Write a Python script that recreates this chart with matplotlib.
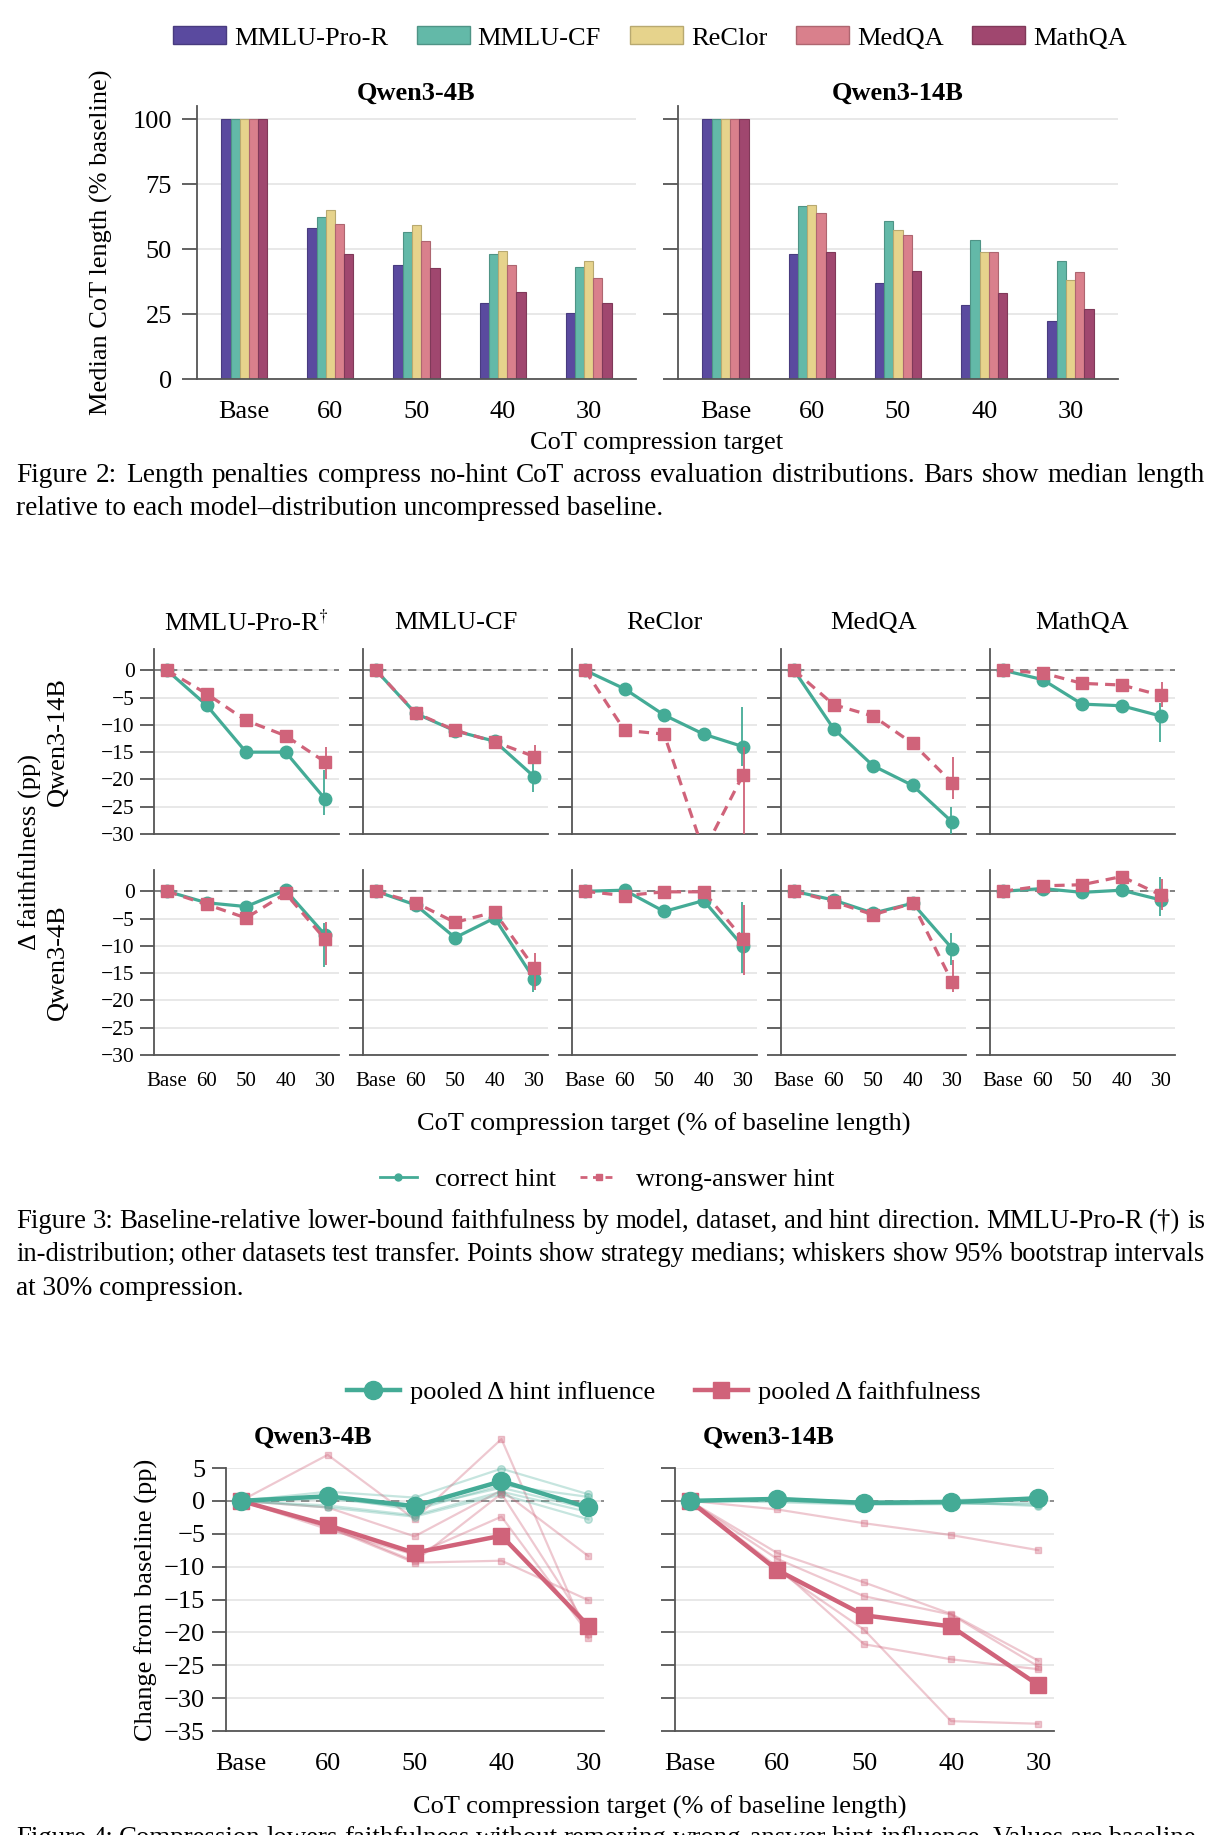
import matplotlib
matplotlib.use("Agg")
import matplotlib.pyplot as plt
import matplotlib.colors as mcolors
from matplotlib.lines import Line2D
from matplotlib.patches import Patch
import numpy as np

plt.rcParams['font.family'] = ['Liberation Serif', 'DejaVu Serif']
plt.rcParams['mathtext.fontset'] = 'stix'

# ---------------- data ----------------
steps = ["Base", "60", "50", "40", "30"]
datasets = ["MMLU-Pro-R", "MMLU-CF", "ReClor", "MedQA", "MathQA"]

# Figure 2: median CoT length (% of baseline), rows = datasets
len_4b = [
    [100, 58.0, 43.7, 29.2, 25.5],
    [100, 62.5, 56.7, 47.9, 42.9],
    [100, 65.0, 59.4, 49.2, 45.5],
    [100, 59.5, 53.0, 43.7, 38.9],
    [100, 48.0, 42.6, 33.4, 29.4],
]
len_14b = [
    [100, 47.9, 37.0, 28.3, 22.3],
    [100, 66.6, 60.6, 53.6, 45.5],
    [100, 67.1, 57.2, 48.8, 37.9],
    [100, 64.0, 55.2, 49.0, 41.0],
    [100, 48.8, 41.4, 33.2, 27.1],
]

# Figure 3: delta faithfulness (pp), rows = datasets
f14_correct = [
    [0, -6.4, -15.0, -15.0, -23.6],
    [0, -7.9, -11.1, -13.0, -19.5],
    [0, -3.4, -8.2, -11.7, -14.0],
    [0, -10.7, -17.5, -21.1, -27.8],
    [0, -1.7, -6.2, -6.5, -8.4],
]
f14_wrong = [
    [0, -4.3, -9.2, -12.0, -16.8],
    [0, -7.8, -11.0, -13.1, -15.8],
    [0, -11.0, -11.7, -33.2, -19.1],
    [0, -6.3, -8.4, -13.4, -20.6],
    [0, -0.5, -2.4, -2.7, -4.6],
]
f4_correct = [
    [0, -2.1, -2.8, 0.2, -8.0],
    [0, -2.5, -8.5, -4.9, -16.1],
    [0, 0.2, -3.7, -1.7, -10.1],
    [0, -1.6, -4.0, -2.2, -10.5],
    [0, 0.5, -0.2, 0.2, -1.6],
]
f4_wrong = [
    [0, -2.4, -4.9, -0.4, -8.8],
    [0, -2.1, -5.7, -3.8, -14.0],
    [0, -0.8, -0.1, -0.1, -8.7],
    [0, -1.9, -4.3, -2.2, -16.6],
    [0, 1.0, 1.2, 2.7, -0.7],
]
# 95% bootstrap intervals at 30% (low, high)
ci14_correct = [(-26.6, -18.2), (-22.3, -16.8), (-17.5, -6.8), (-31.0, -25.0), (-13.1, -6.0)]
ci14_wrong = [(-20.0, -14.0), (-17.1, -13.6), (-36.0, -14.0), (-23.5, -15.9), (-6.8, -2.2)]
ci4_correct = [(-13.8, -5.9), (-18.4, -14.7), (-15.0, -2.0), (-13.5, -7.7), (-4.6, 2.6)]
ci4_wrong = [(-13.5, -5.7), (-18.1, -11.4), (-15.3, -2.5), (-18.4, -12.6), (-3.4, 2.2)]

# Figure 4: pooled change from baseline (pp)
p4_hint = [0, 0.7, -0.8, 3.0, -1.0]
p4_faith = [0, -3.7, -7.9, -5.3, -19.0]
p14_hint = [0, 0.3, -0.3, -0.2, 0.4]
p14_faith = [0, -10.5, -17.4, -19.1, -28.0]
d4_hint = [
    [0, 1.4, 0.5, 4.9, 1.0],
    [0, 0.7, -1.4, 2.4, 0.6],
    [0, -0.7, -2.2, 1.4, -1.7],
    [0, -1.0, -2.4, 1.0, -2.8],
    [0, 0.3, -1.0, 2.0, -1.2],
]
d4_faith = [
    [0, 7.0, -2.8, 9.4, -20.9],
    [0, -1.0, -5.4, 1.6, -8.4],
    [0, -4.0, -9.4, -9.1, -15.1],
    [0, -4.3, -8.2, -2.4, -20.2],
    [0, -3.8, -9.2, 1.1, -19.4],
]
d14_hint = [
    [0, 0.2, -0.4, -0.3, -0.6],
    [0, -0.2, -0.6, -0.5, -0.3],
    [0, 0.4, -0.2, 0.1, 0.5],
    [0, 0.0, -0.5, -0.2, -0.8],
    [0, 0.3, -0.1, 0.0, 0.2],
]
d14_faith = [
    [0, -1.3, -3.4, -5.2, -7.5],
    [0, -7.9, -12.4, -17.2, -24.3],
    [0, -8.8, -14.5, -17.3, -25.2],
    [0, -10.0, -21.8, -24.1, -25.6],
    [0, -10.5, -19.6, -33.5, -33.9],
]

cap2 = ["Figure 2: Length penalties compress no-hint CoT across evaluation distributions. Bars show median length",
        "relative to each model\u2013distribution uncompressed baseline."]
cap3 = ["Figure 3: Baseline-relative lower-bound faithfulness by model, dataset, and hint direction. MMLU-Pro-R (\u2020) is",
        "in-distribution; other datasets test transfer. Points show strategy medians; whiskers show 95% bootstrap intervals",
        "at 30% compression."]
cap4 = ["Figure 4: Compression lowers faithfulness without removing wrong-answer hint influence. Values are baseline-"]

bar_colors = ['#5a4a9f', '#63b9a8', '#e6d38c', '#d9808c', '#a0476f']
teal = '#44ab96'
pink = '#d0637a'
grid_c = '#e2e2e2'
spine_c = '#555555'

W, H = 1221, 1835
fig = plt.figure(figsize=(W / 100, H / 100), dpi=100)


def box(l, t, r, b):
    return [l / W, 1 - b / H, (r - l) / W, (b - t) / H]


def fx(x):
    return x / W


def fy(y):
    return 1 - y / H


def darker(c, f=0.8):
    r, g, b = mcolors.to_rgb(c)
    return (r * f, g * f, b * f)


def style(ax, tl=9, pad=14):
    for s in ['top', 'right']:
        ax.spines[s].set_visible(False)
    for s in ['left', 'bottom']:
        ax.spines[s].set_color(spine_c)
        ax.spines[s].set_linewidth(1.3)
    ax.grid(axis='y', color=grid_c, lw=1.1)
    ax.set_axisbelow(True)
    ax.tick_params(axis='x', length=0, pad=pad)
    ax.tick_params(axis='y', length=tl, width=1.3, color=spine_c)


def justified(lines, x0, x1, ys, size, justify_last=False):
    # lay out words across the full width; shrink a line a little if it is too tight
    r = fig.canvas.get_renderer()
    for k, (line, y) in enumerate(zip(lines, ys)):
        last = (k == len(lines) - 1) and not justify_last
        if last:
            fig.text(fx(x0), fy(y), line, fontsize=size, va='baseline', ha='left')
            continue
        words = line.split(' ')
        s = size
        while True:
            ts = [fig.text(0, 0, w, fontsize=s, va='baseline') for w in words]
            ws = [t.get_window_extent(r).width for t in ts]
            gap = (x1 - x0 - sum(ws)) / (len(words) - 1)
            if gap >= 0.22 * s * 100 / 72 or s < size - 2:
                break
            for t in ts:
                t.remove()
            s -= 0.1
        pos = x0
        for t, w in zip(ts, ws):
            t.set_position((fx(pos), fy(y)))
            pos += w + gap


x = np.arange(len(steps))

# ---------------- Figure 2 ----------------
bw = 0.107
for (l, r), vals, title in [((197, 636), len_4b, "Qwen3-4B"), ((678, 1118), len_14b, "Qwen3-14B")]:
    ax = fig.add_axes(box(l, 106, r, 379))
    style(ax, tl=11, pad=16)
    for i, c in enumerate(bar_colors):
        ax.bar(x + (i - 2) * bw, vals[i], bw, color=c, edgecolor=darker(c), linewidth=0.8, zorder=2)
    ax.set_xlim(-0.55, 4.55)
    ax.set_ylim(0, 105)
    ax.set_yticks([0, 25, 50, 75, 100])
    ax.set_xticks(x)
    ax.set_xticklabels(steps, fontsize=19)
    if l < 300:
        ax.tick_params(axis='y', labelsize=19, pad=7)
        ax.set_ylabel("Median CoT length (% baseline)", fontsize=19, labelpad=14)
    else:
        ax.set_yticklabels([])
    fig.text(fx((l + r) / 2), fy(93), title, fontsize=19, fontweight='bold', ha='center', va='center')

fig.text(fx(657), fy(443), "CoT compression target", fontsize=19, ha='center', va='center')
handles = [Patch(facecolor=c, edgecolor=darker(c), linewidth=1.0) for c in bar_colors]
fig.legend(handles, datasets, loc='center', bbox_to_anchor=(fx(650), fy(38)), ncol=5, frameon=False,
           fontsize=19, handlelength=2.0, handleheight=0.68, handletextpad=0.3, columnspacing=1.1)
justified(cap2, 16, 1205, [482, 515], 19.6)

# ---------------- Figure 3 ----------------
col_l = [154, 363, 572, 781, 990]
rows = [(649, 834, f14_correct, f14_wrong, ci14_correct, ci14_wrong, "Qwen3-14B"),
        (870, 1055, f4_correct, f4_wrong, ci4_correct, ci4_wrong, "Qwen3-4B")]
titles3 = [r"MMLU-Pro-R$^{\dagger}$", "MMLU-CF", "ReClor", "MedQA", "MathQA"]
for ri, (t, b, corr, wrong, cic, ciw, rlab) in enumerate(rows):
    for j in range(5):
        l = col_l[j]
        ax = fig.add_axes(box(l, t, l + 185, b))
        style(ax, tl=10, pad=12)
        ax.axhline(0, color='#707070', lw=1.2, ls=(0, (5, 4)), zorder=1)
        ax.plot(x, corr[j], color=teal, lw=2.3, marker='o', ms=9, zorder=3)
        ax.plot(x, wrong[j], color=pink, lw=2.3, ls=(0, (3.2, 2.2)), marker='s', ms=8.5, zorder=4)
        ax.vlines(x[-1] - 0.03, cic[j][0], cic[j][1], color=teal, lw=1.3, zorder=3)
        ax.vlines(x[-1] + 0.03, ciw[j][0], ciw[j][1], color=pink, lw=1.3, zorder=3)
        ax.set_xlim(-0.33, 4.35)
        ax.set_ylim(-30, 3.9)
        ax.set_yticks(range(0, -31, -5))
        ax.set_xticks(x)
        if ri == 1:
            ax.set_xticklabels(steps, fontsize=15)
        else:
            ax.set_xticklabels([])
        if j == 0:
            ax.tick_params(axis='y', labelsize=15.5, pad=4)
        else:
            ax.set_yticklabels([])
        if ri == 0:
            fig.text(fx(l + 92.5), fy(623), titles3[j], fontsize=19, ha='center', va='center')
    fig.text(fx(58), fy((t + b) / 2), rlab, fontsize=19, rotation=90, ha='center', va='center')

fig.text(fx(30), fy(852), "\u0394 faithfulness (pp)", fontsize=19, rotation=90, ha='center', va='center')
fig.text(fx(664), fy(1124), "CoT compression target (% of baseline length)", fontsize=19, ha='center', va='center')
h3 = [Line2D([], [], color=teal, lw=2, marker='o', ms=5),
      Line2D([], [], color=pink, lw=2, ls=(0, (2.5, 2)), marker='s', ms=5)]
fig.legend(h3, ["correct hint", "wrong-answer hint"], loc='center', bbox_to_anchor=(fx(607), fy(1179)),
           ncol=2, frameon=False, fontsize=19, handlelength=1.4, handletextpad=0.7, columnspacing=0.9)
justified(cap3, 16, 1205, [1228, 1261, 1295], 19.6)

# ---------------- Figure 4 ----------------
for (l, r), hint, faith, dh, dfa, title in [((226, 604), p4_hint, p4_faith, d4_hint, d4_faith, "Qwen3-4B"),
                                             ((675, 1054), p14_hint, p14_faith, d14_hint, d14_faith, "Qwen3-14B")]:
    ax = fig.add_axes(box(l, 1468, r, 1731))
    style(ax, tl=10, pad=16)
    ax.axhline(0, color='#808080', lw=1.2, ls=(0, (5, 4)), zorder=1)
    for k in range(5):
        ax.plot(x, dh[k], color=teal, alpha=0.3, lw=1.6, marker='o', ms=5.5, zorder=2, clip_on=False)
        ax.plot(x, dfa[k], color=pink, alpha=0.35, lw=1.6, marker='s', ms=5, zorder=2, clip_on=False)
    ax.plot(x, faith, color=pink, lw=3.2, marker='s', ms=12, zorder=4, clip_on=False)
    ax.plot(x, hint, color=teal, lw=3.2, marker='o', ms=13, zorder=5, clip_on=False)
    ax.set_xlim(-0.17, 4.18)
    ax.set_ylim(-35, 5)
    ax.set_yticks(range(5, -36, -5))
    ax.set_xticks(x)
    ax.set_xticklabels(steps, fontsize=19)
    if l < 300:
        ax.tick_params(axis='y', labelsize=19, pad=5)
        ax.set_ylabel("Change from baseline (pp)", fontsize=19, labelpad=4)
    else:
        ax.set_yticklabels([])
    fig.text(fx(l + 28), fy(1437), title, fontsize=19, fontweight='bold', ha='left', va='center')

h4 = [Line2D([], [], color=teal, lw=3.2, marker='o', ms=13),
      Line2D([], [], color=pink, lw=3.2, marker='s', ms=12)]
fig.legend(h4, ["pooled \u0394 hint influence", "pooled \u0394 faithfulness"], loc='center',
           bbox_to_anchor=(fx(664), fy(1392)), ncol=2, frameon=False, fontsize=19,
           handlelength=2.0, handletextpad=0.4, columnspacing=1.5)
fig.text(fx(660), fy(1807), "CoT compression target (% of baseline length)", fontsize=19, ha='center', va='center')
justified(cap4, 16, 1205, [1845], 19.6, justify_last=True)

fig.savefig("out.png", dpi=100)
